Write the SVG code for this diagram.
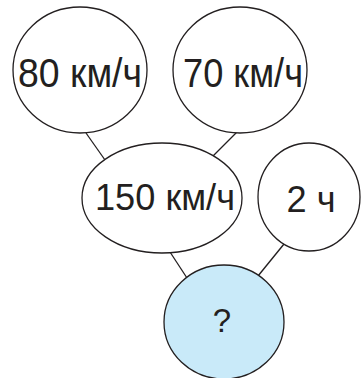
<svg xmlns="http://www.w3.org/2000/svg" width="364" height="378" viewBox="0 0 364 378">
<style>
.n{fill:#fff;stroke:#231f20;stroke-width:1.3}
.q{fill:#c9eaf9;stroke:#231f20;stroke-width:1.3}
.t{font-family:"Liberation Sans",Arial,sans-serif;fill:#231f20;text-anchor:middle}
.c line{stroke:#231f20;stroke-width:1.3}
</style>
<rect width="364" height="378" fill="#fff"/>
<g class="c" id="connectors">
<line x1="86" y1="133" x2="105" y2="160"/>
<line x1="237" y1="132" x2="213" y2="156"/>
<line x1="170" y1="252" x2="187" y2="278"/>
<line x1="284" y1="244" x2="258" y2="276"/>
</g>
<g id="n80"><ellipse class="n" cx="80" cy="70" rx="67" ry="63"/><text class="t" x="80" y="87" font-size="40" textLength="124" lengthAdjust="spacingAndGlyphs">80 км/ч</text></g>
<g id="n70"><ellipse class="n" cx="240" cy="70" rx="67" ry="63"/><text class="t" x="243" y="87" font-size="40" textLength="120" lengthAdjust="spacingAndGlyphs">70 км/ч</text></g>
<g id="n150"><ellipse class="n" cx="162" cy="198" rx="80" ry="55"/><text class="t" x="165" y="210" font-size="37" textLength="140" lengthAdjust="spacingAndGlyphs">150 км/ч</text></g>
<g id="n2"><ellipse class="n" cx="309" cy="197" rx="51" ry="54"/><text class="t" x="311" y="212" font-size="37" textLength="49" lengthAdjust="spacingAndGlyphs">2 ч</text></g>
<g id="nq"><ellipse class="q" cx="224" cy="322" rx="60" ry="57"/><text class="t" x="222" y="332" font-size="33">?</text></g>
</svg>
